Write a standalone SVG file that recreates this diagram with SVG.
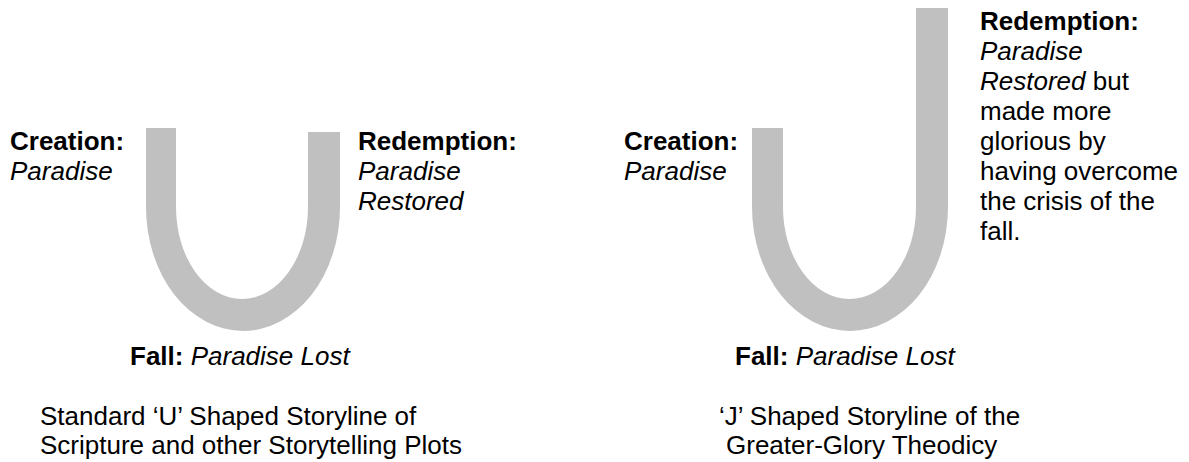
<svg xmlns="http://www.w3.org/2000/svg" width="1189" height="462" viewBox="0 0 1189 462">
<style>
text{font-family:"Liberation Sans",Arial,sans-serif;font-size:26px;fill:#000}
.b{font-weight:bold}
.i{font-style:italic}
.shape{fill:#c0c0c0}
</style>
<rect width="1189" height="462" fill="#fff"/>
<g id="u-diagram">
<g id="u-shape"><path class="shape" d="M146,128 H176 V207 A66,92 0 0 0 308,207 V132 H340 V207 A97,124 0 0 1 146,207 Z"/></g>
<g id="u-creation"><text x="10" y="150" class="b">Creation:</text><text x="10" y="180" class="i">Paradise</text></g>
<g id="u-redemption"><text x="358" y="150" class="b">Redemption:</text><text x="358" y="180" class="i">Paradise</text><text x="358" y="210" class="i">Restored</text></g>
<g id="u-fall"><text x="130" y="365"><tspan class="b">Fall:</tspan> <tspan class="i">Paradise Lost</tspan></text></g>
<g id="u-caption"><text x="40" y="425">Standard ‘U’ Shaped Storyline of</text><text x="40" y="454">Scripture and other Storytelling Plots</text></g>
</g>
<g id="j-diagram">
<g id="j-shape"><path class="shape" d="M752,128 H783 V207 A66.5,92 0 0 0 916,207 V8 H948 V207 A98,124 0 0 1 752,207 Z"/></g>
<g id="j-creation"><text x="624" y="150" class="b">Creation:</text><text x="624" y="180" class="i">Paradise</text></g>
<g id="j-redemption">
<text x="980" y="30" class="b">Redemption:</text>
<text x="980" y="60" class="i">Paradise</text>
<text x="980" y="90"><tspan class="i">Restored</tspan> but</text>
<text x="980" y="120">made more</text>
<text x="980" y="150">glorious by</text>
<text x="980" y="180">having overcome</text>
<text x="980" y="210">the crisis of the</text>
<text x="980" y="240">fall.</text>
</g>
<g id="j-fall"><text x="735" y="365"><tspan class="b">Fall:</tspan> <tspan class="i">Paradise Lost</tspan></text></g>
<g id="j-caption"><text x="719" y="425">‘J’ Shaped Storyline of the</text><text x="726" y="454">Greater-Glory Theodicy</text></g>
</g>
<g id="connectors"/>
</svg>
